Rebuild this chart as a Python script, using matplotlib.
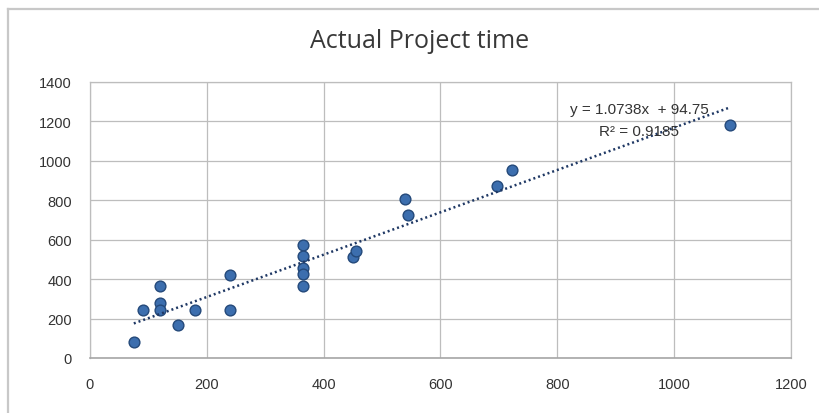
import numpy as np
import matplotlib
matplotlib.use("Agg")
import matplotlib.pyplot as plt
from matplotlib.lines import Line2D

# project durations: planned (x) vs actual (y)
planned = [75, 90, 120, 120, 120, 150, 180, 240, 240,
           365, 365, 365, 365, 365, 450, 455, 540, 545, 697, 722, 1095]
actual = [80, 245, 365, 277, 245, 169, 245, 420, 245,
          575, 515, 455, 425, 365, 510, 543, 808, 724, 870, 955, 1180]

# linear trendline as reported in the chart
slope = 1.0738
intercept = 94.75
r_squared = 0.9185

x_ticks = [0, 200, 400, 600, 800, 1000, 1200]
y_ticks = [0, 200, 400, 600, 800, 1000, 1200, 1400]

title = "Actual Project time"

label_font = ['Liberation Sans', 'DejaVu Sans']

fig = plt.figure(figsize=(8.19, 4.14), dpi=100)
ax = fig.add_axes([90 / 819, 1 - 359 / 414, 701 / 819, 276 / 414])

ax.scatter(planned, actual, s=60, color='#3c6eae', edgecolor='#24497a',
           linewidth=1.0, zorder=3)

xs = np.array([min(planned), max(planned)])
ax.plot(xs, slope * xs + intercept, color='#1f3864', linewidth=1.8,
        linestyle=(0, (0.8, 1.2)), zorder=4)

ax.text(1060, 1262, f"y = {slope}x  + {intercept}", ha='right', va='center',
        fontsize=11, family=label_font, color='#333333', zorder=5)
ax.text(939, 1150, f"R² = {r_squared}", ha='center', va='center',
        fontsize=11, family=label_font, color='#333333', zorder=5)

ax.set_xlim(0, 1200)
ax.set_ylim(0, 1400)
ax.set_xticks(x_ticks)
ax.set_yticks(y_ticks)
ax.set_xticklabels([str(t) for t in x_ticks], family=label_font, fontsize=10.5,
                   color='#333333')
ax.set_yticklabels([str(t) for t in y_ticks], family=label_font, fontsize=10.5,
                   color='#333333')
ax.tick_params(axis='x', length=0, pad=14)
ax.tick_params(axis='y', length=0, pad=13)
ax.grid(True, color='#bdbdbd', linewidth=0.9)
ax.set_axisbelow(True)
for side in ax.spines.values():
    side.set_color('#bdbdbd')
    side.set_linewidth(0.9)
ax.spines['bottom'].set_color('#a6a6a6')
ax.spines['bottom'].set_linewidth(1.2)

fig.text(420 / 819, 1 - 42 / 414, title, ha='center', va='center',
         fontsize=18, family=['Open Sans', 'DejaVu Sans'], color='#383838')

# chart area border (top and left edges)
fig.add_artist(Line2D([8 / 819, 1.0], [1 - 10 / 414] * 2,
                      color='#c8c8c8', linewidth=1.6))
fig.add_artist(Line2D([8 / 819] * 2, [0.0, 1 - 10 / 414],
                      color='#c8c8c8', linewidth=1.6))

fig.savefig('out.png', dpi=100)
